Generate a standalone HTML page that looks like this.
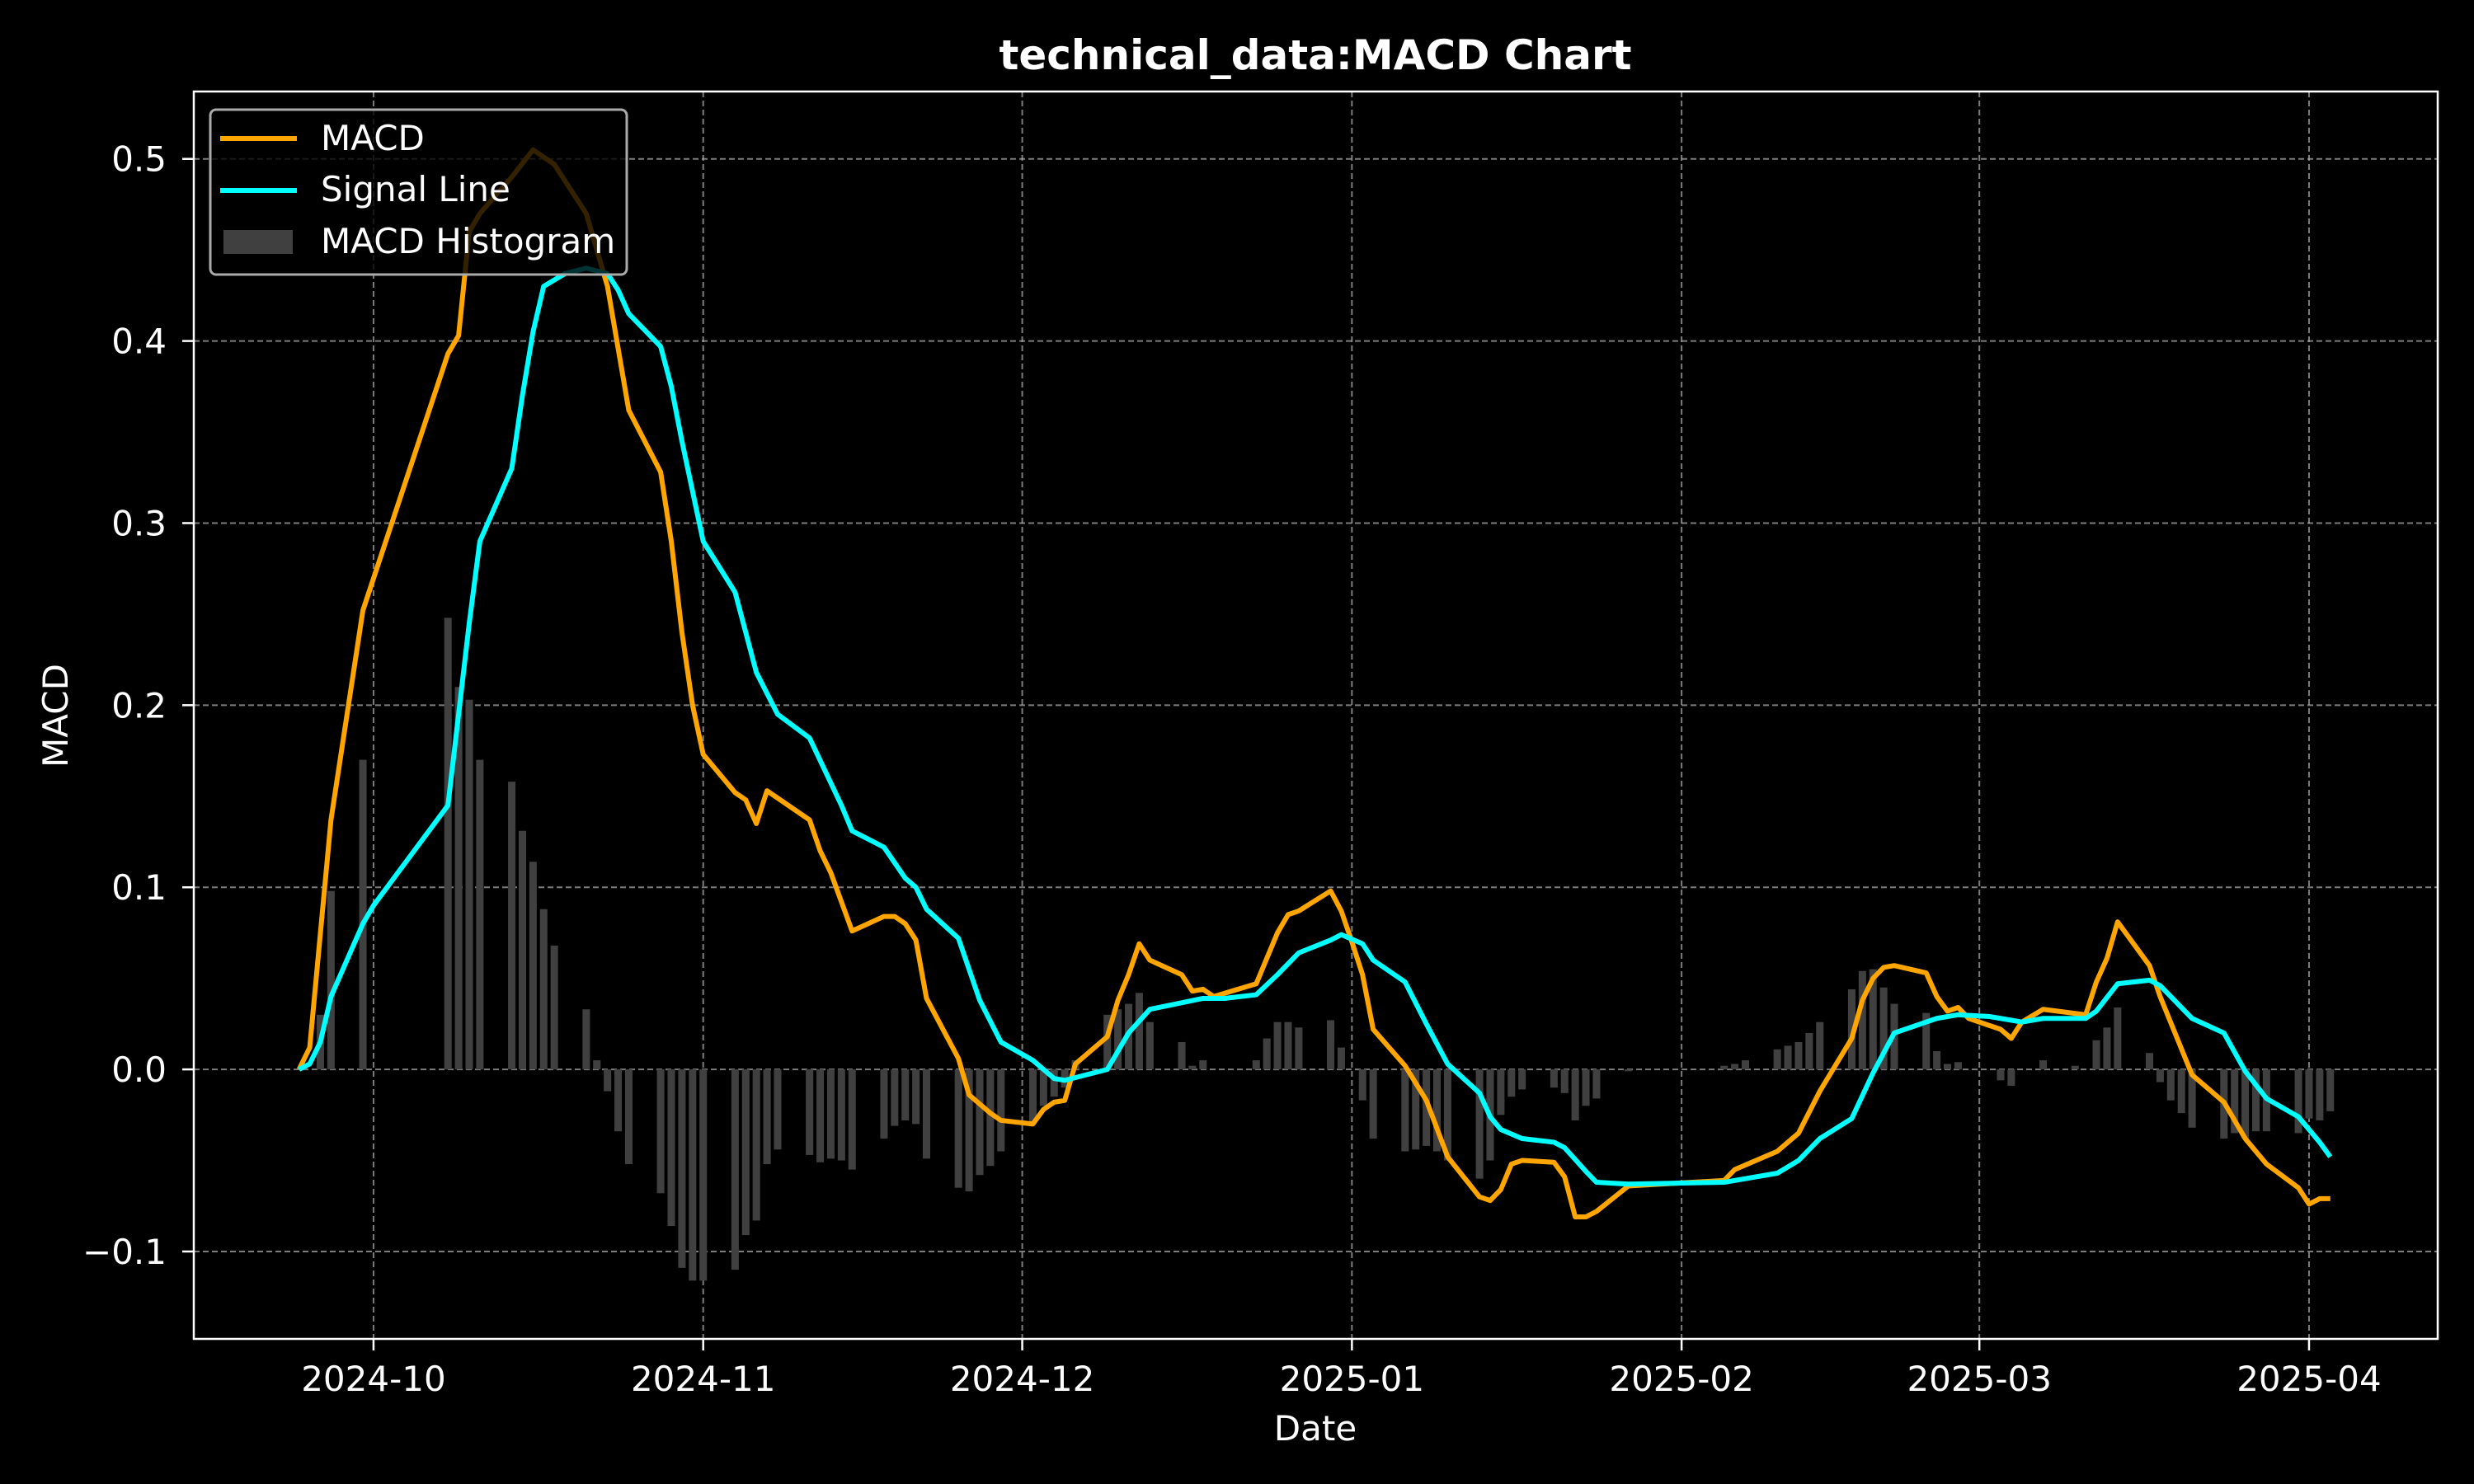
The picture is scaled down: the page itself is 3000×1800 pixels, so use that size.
<!DOCTYPE html>
<html><head><meta charset="utf-8"><style>
html,body{margin:0;padding:0;background:#000;}
svg{display:block;font-family:"DejaVu Sans","Liberation Sans",sans-serif;}
</style></head><body>
<svg id="chart" width="3000" height="1800" viewBox="0 0 3000 1800" xmlns="http://www.w3.org/2000/svg">
<rect x="0" y="0" width="3000" height="1800" fill="#000"/>
<text x="1595" y="84" fill="#fff" font-size="50" font-weight="bold" text-anchor="middle">technical_data:MACD Chart</text>
<text x="1595" y="1747" fill="#fff" font-size="42" text-anchor="middle">Date</text>
<text x="0" y="0" transform="translate(82,868) rotate(-90)" fill="#fff" font-size="42" text-anchor="middle">MACD</text>
<g id="grid"></g>
<g id="bars"></g>
<g id="lines"></g>
<g id="axes"></g>
<g>
<rect x="255" y="133" width="505" height="200" rx="7" fill="#000" fill-opacity="0.8" stroke="#aaa" stroke-width="3"/>
<line x1="267" y1="168" x2="360" y2="168" stroke="#FFA500" stroke-width="6"/>
<text x="389" y="182" fill="#fff" font-size="42">MACD</text>
<line x1="267" y1="231" x2="360" y2="231" stroke="#00FFFF" stroke-width="6"/>
<text x="389" y="244" fill="#fff" font-size="42">Signal Line</text>
<rect x="271" y="279" width="84" height="29" fill="#404040"/>
<text x="389" y="307" fill="#fff" font-size="42">MACD Histogram</text>
</g>
</svg>
<script>
// days since 2024-10-01
const macdDays=[-7,-6,-4,-1,7,8,9,10,13,15,17,20,22,24,27,28,29,30,31,34,35,36,37,38,41,42,43,45,48,49,50,51,52,55,56,58,59,62,63,64,65,66,69,70,71,72,73,76,77,78,79,83,85,86,87,90,91,92,93,94,97,99,101,104,105,106,107,108,111,112,113,114,115,118,127,128,132,134,136,139,140,141,142,143,146,147,148,149,150,153,154,155,157,161,162,163,164,167,168,171,174,176,178,181,182,183,184];
const macdVals=[0,0.012,0.137,0.252,0.393,0.403,0.46,0.47,0.49,0.505,0.497,0.47,0.43,0.362,0.328,0.29,0.24,0.2,0.173,0.152,0.148,0.135,0.153,0.149,0.137,0.12,0.108,0.076,0.084,0.084,0.08,0.071,0.039,0.006,-0.014,-0.024,-0.028,-0.03,-0.022,-0.018,-0.017,0.003,0.018,0.038,0.052,0.069,0.06,0.052,0.043,0.044,0.04,0.047,0.075,0.085,0.087,0.098,0.087,0.07,0.052,0.022,0.002,-0.017,-0.048,-0.07,-0.072,-0.066,-0.052,-0.05,-0.051,-0.059,-0.081,-0.081,-0.078,-0.064,-0.061,-0.055,-0.045,-0.035,-0.012,0.017,0.038,0.05,0.056,0.057,0.053,0.04,0.032,0.034,0.028,0.022,0.017,0.026,0.033,0.03,0.048,0.061,0.081,0.057,0.04,-0.003,-0.018,-0.038,-0.052,-0.065,-0.074,-0.071,-0.071];
const signalDays=[-7,-6,-5,-4,-1,0,7,8,9,10,13,14,15,16,18,20,22,23,24,27,28,29,31,34,35,36,38,41,44,45,48,50,51,52,55,57,59,62,64,65,69,71,73,78,80,83,85,87,90,91,93,94,97,99,101,104,105,106,108,111,112,114,115,118,127,132,134,136,139,141,143,147,149,152,153,155,157,161,162,164,167,168,169,171,174,176,178,181,183,184];
const signalVals=[0,0.003,0.015,0.04,0.08,0.09,0.145,0.195,0.245,0.29,0.33,0.37,0.405,0.43,0.437,0.44,0.437,0.428,0.415,0.397,0.375,0.345,0.29,0.262,0.24,0.218,0.195,0.182,0.145,0.131,0.122,0.105,0.1,0.088,0.072,0.038,0.015,0.005,-0.005,-0.006,0,0.02,0.033,0.039,0.039,0.041,0.052,0.064,0.071,0.074,0.069,0.06,0.048,0.025,0.003,-0.013,-0.026,-0.033,-0.038,-0.04,-0.043,-0.056,-0.062,-0.063,-0.062,-0.057,-0.05,-0.038,-0.027,-0.002,0.02,0.028,0.03,0.029,0.028,0.026,0.028,0.028,0.032,0.047,0.049,0.046,0.04,0.028,0.02,-0.001,-0.016,-0.026,-0.04,-0.048];
const histDays=[-5,-4,-1,7,8,9,10,13,14,15,16,17,20,21,22,23,24,27,28,29,30,31,34,35,36,37,38,41,42,43,44,45,48,49,50,51,52,55,56,57,58,59,62,63,64,65,66,69,70,71,72,73,76,77,78,83,84,85,86,87,90,91,93,94,97,98,99,100,101,104,105,106,107,108,111,112,113,114,115,118,127,128,129,132,133,134,135,136,139,140,141,142,143,146,147,148,149,153,154,157,160,162,163,164,167,168,169,170,171,174,175,176,177,178,181,182,183,184];
const histVals=[0.03,0.098,0.17,0.248,0.21,0.203,0.17,0.158,0.131,0.114,0.088,0.068,0.033,0.005,-0.012,-0.034,-0.052,-0.068,-0.086,-0.109,-0.116,-0.116,-0.11,-0.091,-0.083,-0.052,-0.044,-0.047,-0.051,-0.049,-0.05,-0.055,-0.038,-0.031,-0.028,-0.03,-0.049,-0.065,-0.067,-0.058,-0.053,-0.045,-0.03,-0.02,-0.015,-0.01,0.005,0.03,0.033,0.036,0.042,0.026,0.015,0.002,0.005,0.005,0.017,0.026,0.026,0.023,0.027,0.012,-0.017,-0.038,-0.045,-0.044,-0.042,-0.045,-0.05,-0.06,-0.05,-0.025,-0.015,-0.011,-0.01,-0.013,-0.028,-0.02,-0.016,-0.001,0.002,0.003,0.005,0.011,0.013,0.015,0.02,0.026,0.044,0.054,0.055,0.045,0.036,0.031,0.01,0.003,0.004,-0.006,-0.009,0.005,0.002,0.016,0.023,0.034,0.009,-0.007,-0.017,-0.024,-0.032,-0.038,-0.035,-0.038,-0.034,-0.034,-0.035,-0.027,-0.028,-0.023];
const xTickDays=[0,31,61,92,123,151,182];
const xTickLabels=["2024-10","2024-11","2024-12","2025-01","2025-02","2025-03","2025-04"];
const yTicks=[-0.1,0,0.1,0.2,0.3,0.4,0.5];
const yTickLabels=["\u22120.1","0.0","0.1","0.2","0.3","0.4","0.5"];

const L=235,R=2956,T=111,B=1624;
const xMin=-16.9,xMax=194.1,yMin=-0.148,yMax=0.537;
const X=d=>L+(d-xMin)/(xMax-xMin)*(R-L);
const Y=v=>B-(v-yMin)/(yMax-yMin)*(B-T);
const NS="http://www.w3.org/2000/svg";
function mk(tag,attrs,parent){const e=document.createElementNS(NS,tag);for(const k in attrs)e.setAttribute(k,attrs[k]);parent.appendChild(e);return e;}
const grid=document.getElementById('grid'),bars=document.getElementById('bars'),lines=document.getElementById('lines'),axes=document.getElementById('axes');

xTickDays.forEach((d,i)=>{
  const g=mk('line',{x1:X(d),x2:X(d),y1:T,y2:B,stroke:'#b0b0b0','stroke-opacity':0.7,'stroke-width':2,'stroke-dasharray':'7,4'},grid);
  
  
  const t=mk('line',{x1:X(d),x2:X(d),y1:B,y2:B+14,stroke:'#fff','stroke-width':2.5},axes);
  
  
  const l=mk('text',{x:X(d),y:1687,fill:'#fff','font-size':42,'text-anchor':'middle'},axes);
  l.textContent=xTickLabels[i];
  
  
});
yTicks.forEach((v,i)=>{
  const g=mk('line',{x1:L,x2:R,y1:Y(v),y2:Y(v),stroke:'#b0b0b0','stroke-opacity':0.7,'stroke-width':2,'stroke-dasharray':'7,4'},grid);
  
  
  const t=mk('line',{x1:L-14,x2:L,y1:Y(v),y2:Y(v),stroke:'#fff','stroke-width':2.5},axes);
  
  
  const l=mk('text',{x:L-33,y:Y(v)+15,fill:'#fff','font-size':42,'text-anchor':'end'},axes);
  l.textContent=yTickLabels[i];
  
  
});
const fr=mk('rect',{x:L,y:T,width:R-L,height:B-T,fill:'none',stroke:'#fff','stroke-width':2.5},axes);



const bw=(X(1)-X(0))*0.7;
histDays.forEach((d,i)=>{
  const v=histVals[i],y0=Y(0),y1=Y(v);
  const r=mk('rect',{x:X(d)-bw/2,y:Math.min(y0,y1),width:bw,height:Math.abs(y1-y0),fill:'#404040'},bars);
  
  
});
function line(days,vals,color,name){
  const p=mk('polyline',{points:days.map((d,i)=>X(d)+','+Y(vals[i])).join(' '),fill:'none',stroke:color,'stroke-width':6,'stroke-linejoin':'round'},lines);
  
  
}
line(macdDays,macdVals,'#FFA500','macd-line');
line(signalDays,signalVals,'#00FFFF','signal-line');
</script>
</body></html>
